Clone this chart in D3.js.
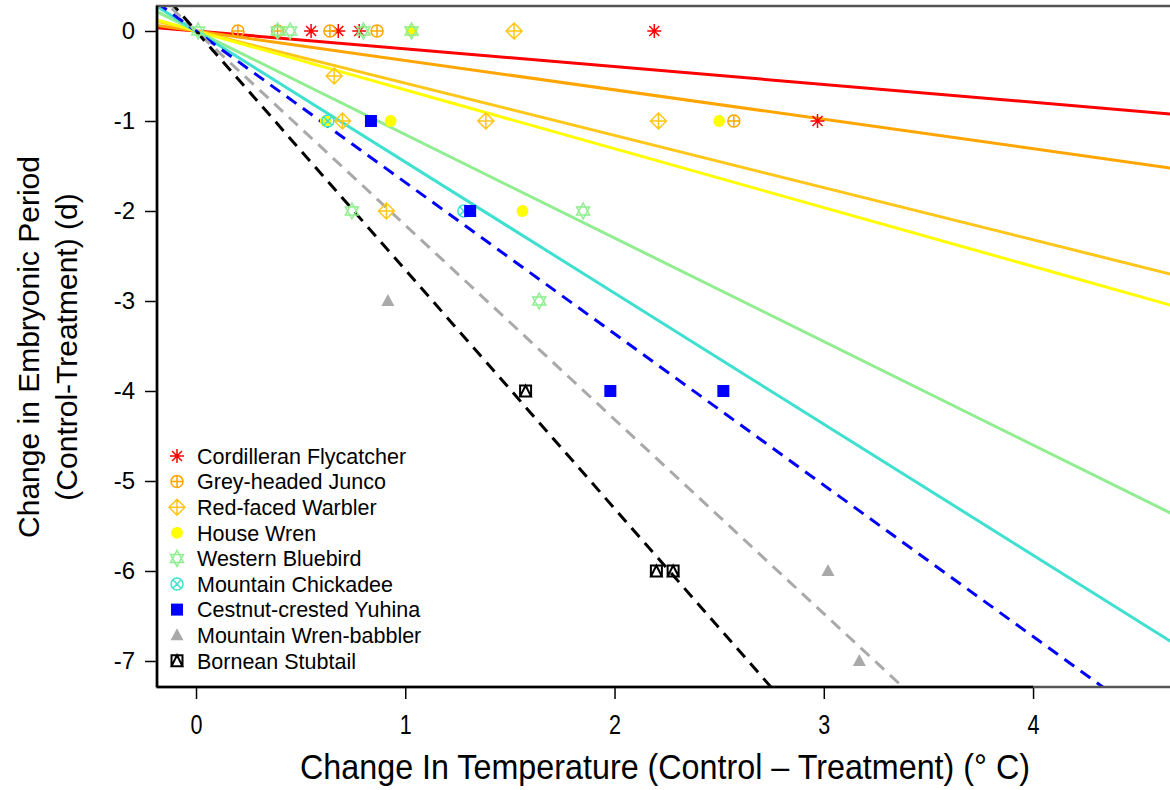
<!DOCTYPE html>
<html>
<head>
<meta charset="utf-8">
<script src="https://cdn.jsdelivr.net/npm/d3@7"></script>
<style>
    body { margin: 0; background: #fff; }
    svg { display: block; font-family: "Liberation Sans", Arial, sans-serif; }
</style>
</head>
<body>
<svg id="chart" width="1170" height="790"></svg>
<script>
    'use strict';

    var species = ['Cordilleran Flycatcher', 'Grey-headed Junco', 'Red-faced Warbler', 'House Wren',
        'Western Bluebird', 'Mountain Chickadee', 'Cestnut-crested Yuhina', 'Mountain Wren-babbler', 'Bornean Stubtail'];
    var colors = ['#ff0000', '#ffa500', '#ffc61a', '#ffff00', '#90ee90', '#40e0d0', '#0000ff', '#a9a9a9', '#000000'];
    var shapes = ['asterisk', 'circlePlus', 'diamondPlus', 'dot', 'star', 'circleX', 'square', 'triangle', 'squareTriangle'];
    var dashed = [false, false, false, false, false, false, true, true, true];

    // fitted slopes (line through origin)
    var slopes = [-0.198, -0.327, -0.580, -0.654, -1.15, -1.456, -1.682, -2.158, -2.653];

    // points: [dTemp, dPeriod]
    var flycatcherPts = [[0.55, 0], [0.68, 0], [0.78, 0], [2.19, 0], [2.97, -1]];
    var juncoPts = [[0.2, 0], [0.39, 0], [0.64, 0], [0.865, 0], [2.57, -1]];
    var warblerPts = [[1.52, 0], [0.66, -0.5], [0.7, -1], [1.385, -1], [2.21, -1], [0.91, -2]];
    var wrenPts = [[1.03, 0], [0.62, -1], [0.93, -1], [2.5, -1], [1.56, -2]];
    var bluebirdPts = [[0.01, 0], [0.39, 0], [0.45, 0], [0.8, 0], [1.03, 0], [0.745, -2], [1.85, -2], [1.64, -3]];
    var chickadeePts = [[0.63, -1], [1.28, -2]];
    var yuhinaPts = [[0.836, -1], [1.31, -2], [1.98, -4], [2.52, -4]];
    var babblerPts = [[0.917, -3], [3.02, -6], [3.17, -7]];
    var stubtailPts = [[1.575, -4], [2.2, -6], [2.28, -6]];
    var points = [flycatcherPts, juncoPts, warblerPts, wrenPts, bluebirdPts, chickadeePts, yuhinaPts, babblerPts, stubtailPts];

    var xTicks = [0, 1, 2, 3, 4];
    var yTicks = [0, -1, -2, -3, -4, -5, -6, -7];

    var svg = d3.select('#chart');
    var box = {left: 157, top: 6, right: 1172, bottom: 687};

    var x = d3.scaleLinear().domain([-0.1864, 4.664]).range([box.left, box.right]);
    var y = d3.scaleLinear().domain([0.2778, -7.289]).range([box.top, box.bottom]);

    function symbolPath(shape) {
        var r = 7;
        var s = 6;
        switch (shape) {
            case 'asterisk':
                return 'M' + (-r) + ',0H' + r + 'M0,' + (-r) + 'V' + r +
                    'M-5,-5L5,5M-5,5L5,-5';
            case 'circlePlus':
                return 'M' + (-s) + ',0A' + s + ',' + s + ' 0 1,0 ' + s + ',0A' + s + ',' + s + ' 0 1,0 ' + (-s) + ',0Z' +
                    'M' + (-s) + ',0H' + s + 'M0,' + (-s) + 'V' + s;
            case 'diamondPlus':
                return 'M0,-8L8,0L0,8L-8,0Z M-8,0H8M0,-8V8';
            case 'circleX':
                return 'M' + (-s) + ',0A' + s + ',' + s + ' 0 1,0 ' + s + ',0A' + s + ',' + s + ' 0 1,0 ' + (-s) + ',0Z' +
                    'M-4.2,-4.2L4.2,4.2M-4.2,4.2L4.2,-4.2';
            case 'star':
                return 'M0,-8L6.5,4L-6.5,4Z M0,8L6.5,-4L-6.5,-4Z';
            case 'squareTriangle':
                return 'M-5.5,-5.5H5.5V5.5H-5.5Z M0,-5.5L5.5,5.5H-5.5Z';
            case 'square':
                return 'M-6,-6H6V6H-6Z';
            case 'triangle':
                return 'M0,-7L6.5,5L-6.5,5Z';
            default:
                return d3.symbol().type(d3.symbolCircle).size(110)();
        }
    }

    function isFilled(shape) {
        return shape === 'dot' || shape === 'square' || shape === 'triangle';
    }

    function drawSymbol(g, shape, color, cx, cy) {
        g.append('path')
            .attr('d', symbolPath(shape))
            .attr('transform', 'translate(' + cx + ',' + cy + ')')
            .attr('fill', isFilled(shape) ? color : 'none')
            .attr('stroke', isFilled(shape) ? 'none' : color)
            .attr('stroke-width', shape === 'squareTriangle' ? 2 : 1.5);
    }

    function renderLines() {
        var g = svg.append('g').attr('clip-path', 'url(#plotClip)');
        var xs = x.domain();
        slopes.forEach(function (b, i) {
            g.append('line')
                .attr('x1', x(xs[0]))
                .attr('y1', y(b * xs[0]))
                .attr('x2', x(xs[1]))
                .attr('y2', y(b * xs[1]))
                .attr('stroke', colors[i])
                .attr('stroke-width', 3)
                .attr('stroke-dasharray', dashed[i] ? '12,8' : null);
        });
    }

    function renderPoints() {
        var g = svg.append('g');
        points.forEach(function (pts, i) {
            pts.forEach(function (p) {
                drawSymbol(g, shapes[i], colors[i], x(p[0]), y(p[1]));
            });
        });
    }

    function renderAxes() {
        var xAxis = svg.append('g')
            .attr('transform', 'translate(0,' + box.bottom + ')')
            .call(d3.axisBottom(x).tickValues(xTicks).tickSize(12).tickPadding(16).tickFormat(d3.format('d')));
        xAxis.select('.domain').remove();
        xAxis.selectAll('text')
            .attr('font-size', 27)
            .attr('textLength', 12)
            .attr('lengthAdjust', 'spacingAndGlyphs')
            .attr('fill', '#000');

        var yAxis = svg.append('g')
            .attr('transform', 'translate(' + box.left + ',0)')
            .call(d3.axisLeft(y).tickValues(yTicks).tickSize(12).tickPadding(10).tickFormat(function (d) {
                return d === 0 ? '0' : '-' + Math.abs(d);
            }));
        yAxis.select('.domain').remove();
        yAxis.selectAll('text')
            .attr('font-size', 24)
            .attr('fill', '#000');
        svg.selectAll('.tick line').attr('stroke', '#000').attr('stroke-width', 1.5);

        // plot box
        svg.append('rect')
            .attr('x', box.left)
            .attr('y', box.top)
            .attr('width', box.right - box.left)
            .attr('height', box.bottom - box.top)
            .attr('fill', 'none')
            .attr('stroke', '#555')
            .attr('stroke-width', 2.5);
        // axis lines over tick range
        svg.append('line')
            .attr('x1', box.left).attr('x2', box.left)
            .attr('y1', box.top).attr('y2', box.bottom)
            .attr('stroke', '#000').attr('stroke-width', 2.5);
        svg.append('line')
            .attr('x1', box.left).attr('x2', x(4))
            .attr('y1', box.bottom).attr('y2', box.bottom)
            .attr('stroke', '#000').attr('stroke-width', 2.5);

        svg.append('text')
            .attr('x', 665)
            .attr('y', 779)
            .attr('text-anchor', 'middle')
            .attr('font-size', 35)
            .attr('textLength', 730)
            .attr('lengthAdjust', 'spacingAndGlyphs')
            .text('Change In Temperature (Control \u2013 Treatment) (\u00b0 C)');

        var yl = svg.append('text')
            .attr('transform', 'translate(0,347) rotate(-90)')
            .attr('text-anchor', 'middle')
            .attr('font-size', 30)
            .attr('fill', '#000');
        yl.append('tspan').attr('x', 0).attr('y', 39).text('Change in Embryonic Period');
        yl.append('tspan').attr('x', 0).attr('y', 77).text('(Control-Treatment) (d)');
    }

    function renderLegend() {
        var g = svg.append('g');
        species.forEach(function (name, i) {
            var cy = 456 + i * 25.6;
            drawSymbol(g, shapes[i], colors[i], 177, cy);
            g.append('text')
                .attr('x', 197)
                .attr('y', cy)
                .attr('dy', '0.36em')
                .attr('font-size', 21.5)
                .attr('fill', '#000')
                .text(name);
        });
    }

    svg.append('defs').append('clipPath').attr('id', 'plotClip')
        .append('rect')
        .attr('x', box.left).attr('y', box.top)
        .attr('width', box.right - box.left).attr('height', box.bottom - box.top);

    renderLines();
    renderPoints();
    renderAxes();
    renderLegend();
</script>
</body>
</html>
